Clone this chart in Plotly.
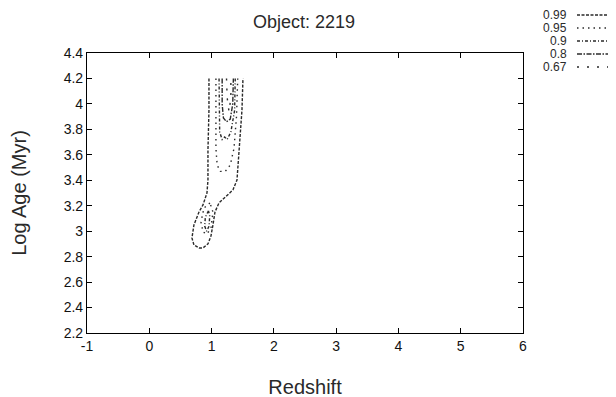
import plotly.graph_objects as go

# ---- data ----
levels = ["0.99", "0.95", "0.9", "0.8", "0.67"]

c099_z = [0.958, 0.958, 0.942, 0.942, 0.926, 0.862, 0.798, 0.717, 0.685, 0.717, 0.798, 0.862, 0.942, 0.990, 1.022, 1.055, 1.119, 1.247, 1.343, 1.408, 1.424, 1.456, 1.488, 1.504]
c099_a = [4.20, 3.952, 3.638, 3.402, 3.300, 3.206, 3.151, 3.049, 2.947, 2.892, 2.868, 2.868, 2.900, 2.962, 3.049, 3.151, 3.222, 3.277, 3.324, 3.402, 3.520, 3.717, 3.952, 4.20]

c095_z = [1.07, 1.07, 1.07, 1.09, 1.14, 1.22, 1.30, 1.36, 1.40, 1.42]
c095_a = [4.20, 3.90, 3.65, 3.52, 3.47, 3.47, 3.52, 3.65, 3.90, 4.20]
c095b_z = [0.974, 0.878, 0.830, 0.862, 0.926, 0.990, 1.022, 0.974]
c095b_a = [3.222, 3.182, 3.072, 2.994, 2.978, 3.025, 3.151, 3.222]

c090_z = [1.12, 1.12, 1.13, 1.17, 1.21, 1.25, 1.31, 1.37, 1.38]
c090_a = [4.20, 3.95, 3.78, 3.72, 3.74, 3.72, 3.78, 3.95, 4.20]
c090b_z = [0.95, 0.90, 0.89, 0.92, 0.96, 0.97, 0.95]
c090b_a = [3.16, 3.11, 3.04, 3.00, 3.04, 3.12, 3.16]

c080_z = [1.17, 1.17, 1.19, 1.24, 1.30, 1.34, 1.35]
c080_a = [4.20, 4.00, 3.89, 3.86, 3.88, 4.00, 4.20]

c067_z = [1.24, 1.25, 1.28, 1.31, 1.31]
c067_a = [4.20, 4.05, 3.94, 4.05, 4.20]

x_ticks = [-1, 0, 1, 2, 3, 4, 5, 6]
x_tick_text = ["-1", "0", "1", "2", "3", "4", "5", "6"]
y_ticks = [2.2, 2.4, 2.6, 2.8, 3.0, 3.2, 3.4, 3.6, 3.8, 4.0, 4.2, 4.4]
y_tick_text = ["2.2", "2.4", "2.6", "2.8", "3", "3.2", "3.4", "3.6", "3.8", "4", "4.2", "4.4"]

# ---- styles ----
ink = "#2a2a2a"
font_family = "Liberation Sans, Arial, Helvetica"
dashes = {
    "0.99": "3px,1.5px",
    "0.95": "1.5px,4px",
    "0.9": "3px,2px,1px,2px",
    "0.8": "5px,1.5px,1.5px,1.5px",
    "0.67": "2px,8px",
}

fig = go.Figure()
segments = [
    ("0.99", c099_z, c099_a),
    ("0.95", c095_z, c095_a),
    ("0.95", c095b_z, c095b_a),
    ("0.9", c090_z, c090_a),
    ("0.9", c090b_z, c090b_a),
    ("0.8", c080_z, c080_a),
    ("0.67", c067_z, c067_a),
]
for lev, zs, ag in segments:
    fig.add_trace(go.Scatter(x=zs, y=ag, mode="lines", showlegend=False,
                             line=dict(color=ink, width=1.4, dash=dashes[lev])))

# page offset (body margin) compensation
OFF = 8
W, H = 616, 397
ml, mt = 87 - OFF, 53 - OFF
mr, mb = W - 523 + OFF, H - 333 + OFF
pw, ph = W - ml - mr, H - mt - mb
def px2paper_x(px):
    return (px - OFF - ml) / pw
def py2paper_y(py):
    return 1 - (py - OFF - mt) / ph

row_y = [15, 28, 41, 54, 67]
for lev, ry in zip(levels, row_y):
    fig.add_annotation(x=px2paper_x(568), y=py2paper_y(ry), xref="paper", yref="paper",
                       text=lev, showarrow=False, xanchor="right", yanchor="middle",
                       borderpad=0,
                       font=dict(family=font_family, size=12, color=ink))
    fig.add_shape(type="line", xref="paper", yref="paper",
                  x0=px2paper_x(577), x1=px2paper_x(614),
                  y0=py2paper_y(ry), y1=py2paper_y(ry),
                  line=dict(color=ink, width=1.3, dash=dashes[lev]))

fig.add_annotation(x=px2paper_x(304), y=py2paper_y(22), xref="paper", yref="paper",
                   text="Object: 2219", showarrow=False, xanchor="center", yanchor="middle",
                   font=dict(family=font_family, size=18, color=ink))

axis_common = dict(showline=True, linecolor="black", linewidth=1.2, mirror="ticks",
                   ticks="inside", ticklen=5, tickwidth=1, tickcolor="black",
                   showgrid=False, zeroline=False,
                   tickfont=dict(family=font_family, size=14, color="#111"))

fig.update_layout(
    width=W, height=H,
    margin=dict(l=ml, r=mr, t=mt, b=mb, autoexpand=False),
    paper_bgcolor="white", plot_bgcolor="white",
    xaxis=dict(range=[-1, 6], tickvals=x_ticks, ticktext=x_tick_text,
               title=dict(text="Redshift", standoff=27,
                          font=dict(family=font_family, size=20, color=ink)),
               **axis_common),
    yaxis=dict(range=[2.2, 4.4], tickvals=y_ticks, ticktext=y_tick_text,
               title=dict(text="Log Age (Myr)", standoff=32,
                          font=dict(family=font_family, size=20, color=ink)),
               **axis_common),
)

fig.write_html("out.html")
